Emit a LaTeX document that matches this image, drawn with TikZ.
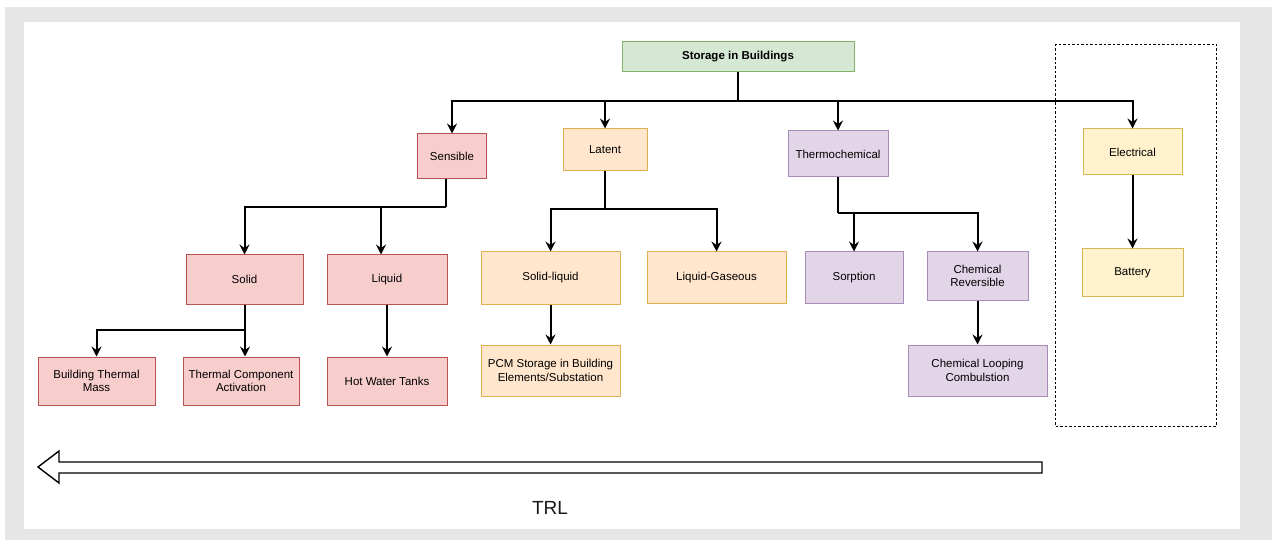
\documentclass[tikz,border=0pt]{standalone}
\usepackage{fontspec}
\setmainfont{Liberation Sans}
\usetikzlibrary{arrows.meta}
\definecolor{bggray}{HTML}{E6E6E6}
\definecolor{gfill}{HTML}{D5E8D4}\definecolor{gline}{HTML}{82B366}
\definecolor{rfill}{HTML}{F8CECC}\definecolor{rline}{HTML}{B85450}
\definecolor{ofill}{HTML}{FFE6CC}\definecolor{oline}{HTML}{E0B050}
\definecolor{pfill}{HTML}{E1D5E7}\definecolor{pline}{HTML}{A98BB8}
\definecolor{yfill}{HTML}{FFF2CC}\definecolor{yline}{HTML}{D6B656}
\tikzset{
  box/.style={draw, line width=1pt, inner sep=2pt, align=center, anchor=center,
    font=\fontsize{11.5}{13.5}\selectfont},
  gbox/.style={box, fill=gfill, draw=gline},
  rbox/.style={box, fill=rfill, draw=rline},
  obox/.style={box, fill=ofill, draw=oline},
  pbox/.style={box, fill=pfill, draw=pline},
  ybox/.style={box, fill=yfill, draw=yline},
  conn/.style={draw=black, line width=2pt, -{Stealth[length=10pt,width=10pt,inset=3.5pt]}},
  plain/.style={draw=black, line width=2pt},
}
\begin{document}
\begin{tikzpicture}[x=1pt,y=-1pt]
\useasboundingbox (0,0) rectangle (1272,540);
\fill[bggray] (5,7) rectangle (1272,540);
\fill[white] (24,22) rectangle (1240,529);

% dashed group
\draw[dashed, line width=0.8pt, dash pattern=on 2.5pt off 2pt] (1055,44) rectangle (1216,426);

% nodes
\node[gbox, minimum width=232pt, minimum height=30pt, font=\fontsize{11.5}{13.5}\selectfont\bfseries] (root) at (738,57) {Storage in Buildings};
\node[rbox, minimum width=69pt, minimum height=45pt] (sens) at (452,156.5) {Sensible};
\node[obox, minimum width=84pt, minimum height=42pt] (lat) at (605,150) {Latent};
\node[pbox, minimum width=100pt, minimum height=46pt] (thermo) at (838,154) {Thermochemical};
\node[ybox, minimum width=99pt, minimum height=46pt] (elec) at (1132.5,152) {Electrical};

\node[rbox, minimum width=117pt, minimum height=49pt] (solid) at (244.5,279.5) {Solid};
\node[rbox, minimum width=120pt, minimum height=49pt] (liquid) at (387,279.5) {Liquid};
\node[obox, minimum width=139pt, minimum height=52pt] (sl) at (550.5,278) {Solid-liquid};
\node[obox, minimum width=139pt, minimum height=51pt] (lg) at (716.5,277.5) {Liquid-Gaseous};
\node[pbox, minimum width=98pt, minimum height=51pt] (sorp) at (854,277.5) {Sorption};
\node[pbox, minimum width=101pt, minimum height=48pt] (chrev) at (977.5,276) {Chemical\\Reversible};
\node[ybox, minimum width=101pt, minimum height=47pt] (batt) at (1132.5,272.5) {Battery};

\node[rbox, minimum width=117pt, minimum height=48pt] (btm) at (96.5,381) {Building Thermal\\Mass};
\node[rbox, minimum width=116pt, minimum height=48pt] (tca) at (241,381) {Thermal Component\\Activation};
\node[rbox, minimum width=120pt, minimum height=48pt] (hwt) at (387,381) {Hot Water Tanks};
\node[obox, minimum width=139pt, minimum height=51pt] (pcm) at (550.5,370.5) {PCM Storage in Building\\Elements/Substation};
\node[pbox, minimum width=139pt, minimum height=51pt] (clc) at (977.5,370.5) {Chemical Looping\\Combulstion};

% junctions
\coordinate (j1) at (738,101);
\coordinate (j2) at (446,207);
\coordinate (j3) at (244.5,330);
\coordinate (j4) at (605,209);
\coordinate (j5) at (838,213);

% connectors
\draw[plain] (root.south) -- (j1);
\draw[conn] (j1) -| (sens.north);
\draw[conn] (j1) -| (lat.north);
\draw[conn] (j1) -| (thermo.north);
\draw[conn] (j1) -| (elec.north);

\draw[plain] ([xshift=-6pt]sens.south) -- (j2);
\draw[conn] (j2) -| (solid.north);
\draw[conn] (j2) -| ([xshift=-6pt]liquid.north);

\draw[plain] (solid.south) -- (j3);
\draw[conn] (j3) -| (btm.north);
\draw[conn] (j3) -| ([xshift=4pt]tca.north);
\draw[conn] (liquid.south) -- (hwt.north);

\draw[plain] (lat.south) -- (j4);
\draw[conn] (j4) -| (sl.north);
\draw[conn] (j4) -| (lg.north);
\draw[conn] (sl.south) -- (pcm.north);

\draw[plain] (thermo.south) -- (j5);
\draw[conn] (j5) -| (sorp.north);
\draw[conn] (j5) -| (chrev.north);
\draw[conn] (chrev.south) -- (clc.north);

\draw[conn] (elec.south) -- (batt.north);

% TRL arrow
\draw[line width=1.4pt, fill=white, line join=miter]
  (1042,462) -- (59,462) -- (59,451) -- (38,467) -- (59,483) -- (59,473) -- (1042,473) -- cycle;
\node[font=\fontsize{19}{22}\selectfont, text=black!90] (trl) at (550,508) {TRL};
\end{tikzpicture}
\end{document}
